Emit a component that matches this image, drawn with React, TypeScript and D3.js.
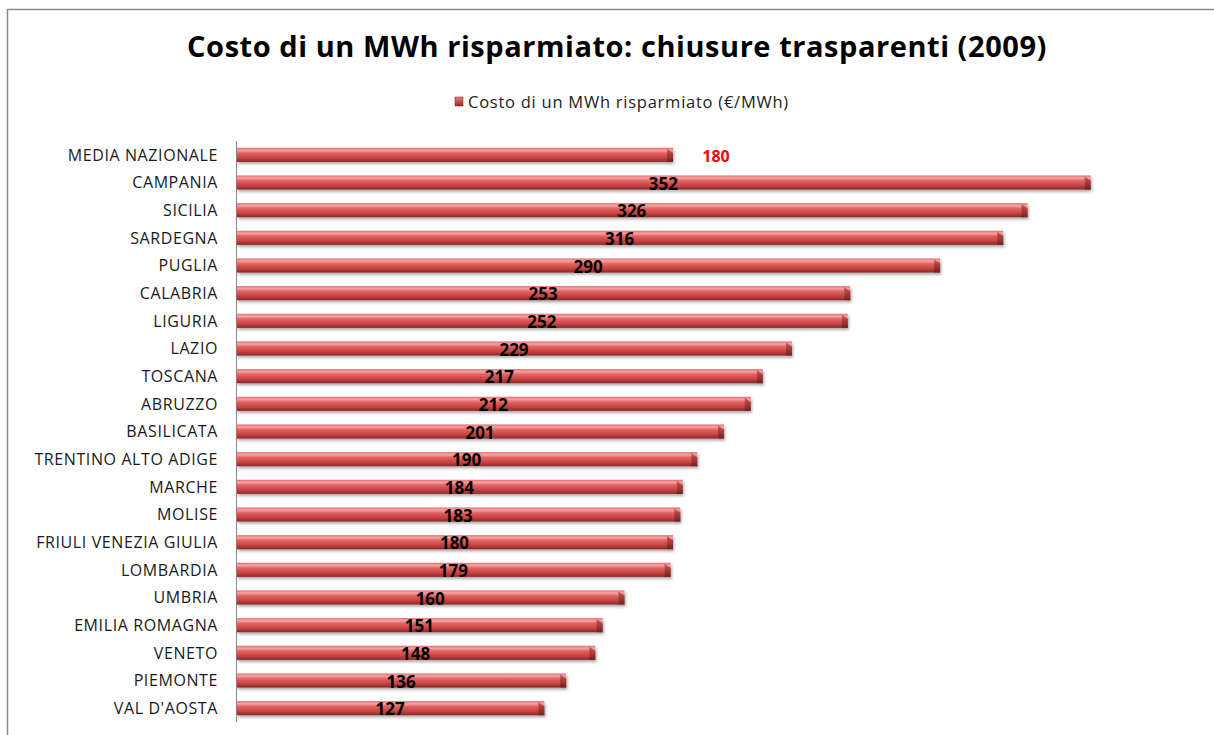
import React from "react";
import * as d3 from "d3";

const categories = [
  "MEDIA NAZIONALE",
  "CAMPANIA",
  "SICILIA",
  "SARDEGNA",
  "PUGLIA",
  "CALABRIA",
  "LIGURIA",
  "LAZIO",
  "TOSCANA",
  "ABRUZZO",
  "BASILICATA",
  "TRENTINO ALTO ADIGE",
  "MARCHE",
  "MOLISE",
  "FRIULI VENEZIA GIULIA",
  "LOMBARDIA",
  "UMBRIA",
  "EMILIA ROMAGNA",
  "VENETO",
  "PIEMONTE",
  "VAL D'AOSTA",
];
const values = [180, 352, 326, 316, 290, 253, 252, 229, 217, 212, 201, 190, 184, 183, 180, 179, 160, 151, 148, 136, 127];

const title = "Costo di un MWh risparmiato: chiusure trasparenti (2009)";
const legendLabel = "Costo di un MWh risparmiato (€/MWh)";

const W = 1214;
const H = 735;
const FONT = "'Open Sans', Lato, sans-serif";

export default function App() {
  const x = d3.scaleLinear().domain([0, 400]).range([236, 236 + 400 * 2.428]);
  const y = d3
    .scaleBand<string>()
    .domain(categories)
    .range([141, 722])
    .paddingInner(0.49)
    .paddingOuter(0.245);
  const bw = y.bandwidth();

  return (
    <svg
      width={W}
      height={H}
      style={{ position: "absolute", left: 0, top: 0, background: "#fff" }}
    >
      <defs>
        <linearGradient id="barGrad" x1="0" y1="0" x2="0" y2="1">
          <stop offset="0" stopColor="#e07070" />
          <stop offset="0.18" stopColor="#f7a3a3" />
          <stop offset="0.38" stopColor="#e26262" />
          <stop offset="0.7" stopColor="#c94545" />
          <stop offset="1" stopColor="#8c2626" />
        </linearGradient>
        <linearGradient id="capGrad" x1="0" y1="0" x2="0" y2="1">
          <stop offset="0" stopColor="#b84545" />
          <stop offset="1" stopColor="#6e1c1c" />
        </linearGradient>
        <linearGradient id="legGrad" x1="0" y1="0" x2="0" y2="1">
          <stop offset="0" stopColor="#e87a7a" />
          <stop offset="1" stopColor="#9c2a2a" />
        </linearGradient>
        <filter id="shadow" x="-5%" y="-50%" width="110%" height="220%">
          <feDropShadow dx="1" dy="2" stdDeviation="1.5" floodColor="#000" floodOpacity="0.35" />
        </filter>
      </defs>

      <rect x={7.5} y={9.5} width={W + 10} height={H + 10} fill="#fff" stroke="#8a8a8a" strokeWidth={1.5} />

      <text
        x={617}
        y={57}
        textAnchor="middle"
        fontFamily={FONT}
        fontWeight="bold"
        fontSize={29}
        letterSpacing={0.55}
        fill="#000"
      >
        {title}
      </text>

      <g>
        <rect x={455} y={97} width={8} height={9} fill="url(#legGrad)" stroke="#7a2020" strokeWidth={0.5} />
        <text x={468} y={108} fontFamily={FONT} fontSize={16.5} letterSpacing={0.75} fill="#222">
          {legendLabel}
        </text>
      </g>

      <line x1={236.5} x2={236.5} y1={141} y2={722} stroke="#8a8a8a" strokeWidth={1} />

      {categories.map((c, i) => {
        const v = values[i];
        const y0 = y(c)!;
        const x0 = x(0);
        const x1 = x(v);
        const cy = y0 + bw / 2;
        const cap = 6;
        const isMean = i === 0;
        return (
          <g key={c}>
            <text
              x={218}
              y={cy}
              dy="0.36em"
              textAnchor="end"
              fontFamily={FONT}
              fontSize={16}
              letterSpacing={0.6}
              fill="#1a1a1a"
            >
              {c}
            </text>
            <g filter="url(#shadow)">
              <rect x={x0 + 1} y={y0} width={x1 - x0 - 1} height={bw} fill="url(#barGrad)" />
              <polygon
                points={`${x1 - cap},${y0 + 1} ${x1},${y0 + cap * 0.9} ${x1},${y0 + bw} ${x1 - cap},${y0 + bw}`}
                fill="url(#capGrad)"
                opacity={0.75}
              />
            </g>
            {isMean ? (
              <text
                x={x1 + 43}
                y={cy}
                dy="0.42em"
                textAnchor="middle"
                fontFamily={FONT}
                fontWeight="bold"
                fontSize={16}
                fill="#ff0000"
              >
                {v}
              </text>
            ) : (
              <text
                x={(x0 + x1) / 2}
                y={cy}
                dy="0.42em"
                textAnchor="middle"
                fontFamily={FONT}
                fontWeight="bold"
                fontSize={17}
                fill="#000"
              >
                {v}
              </text>
            )}
          </g>
        );
      })}
    </svg>
  );
}
